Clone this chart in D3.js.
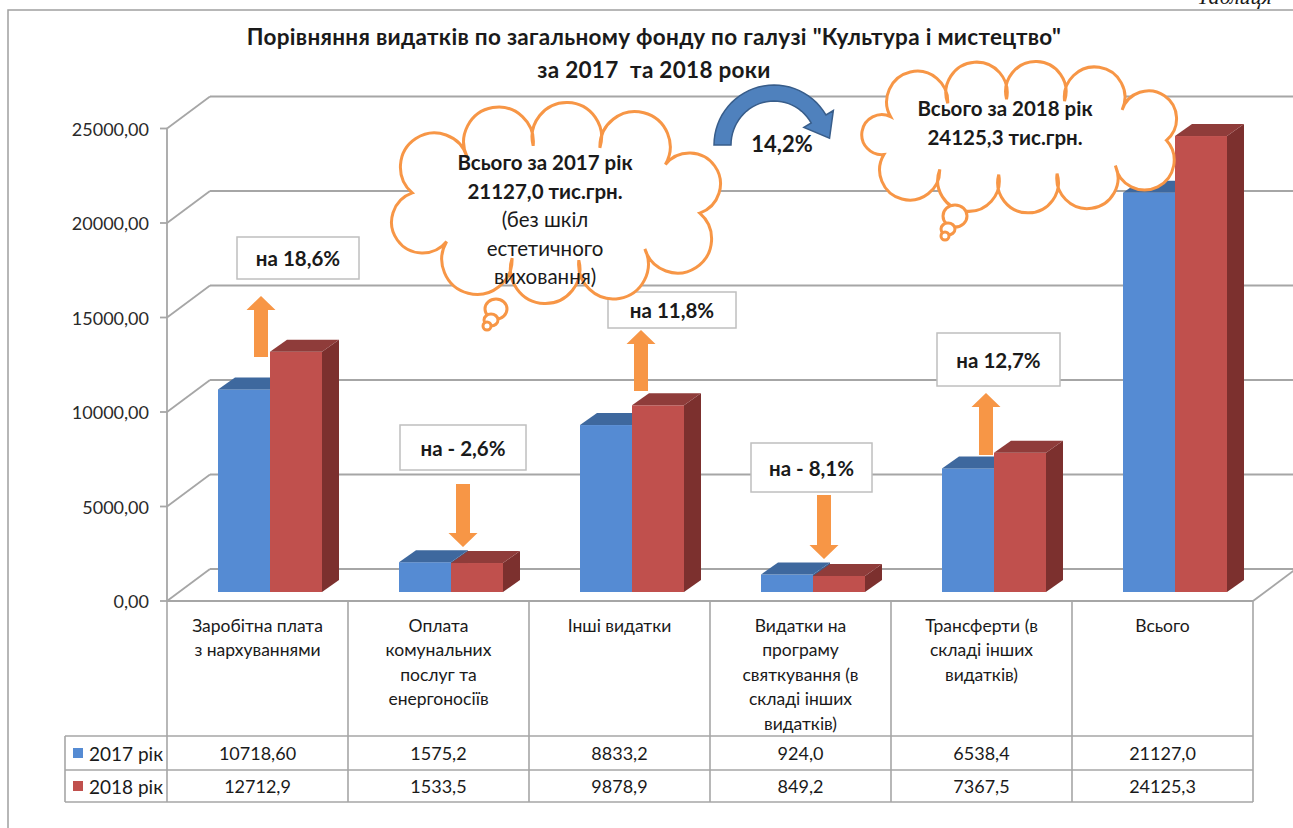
<!DOCTYPE html>
<html><head><meta charset="utf-8">
<script src="https://cdn.jsdelivr.net/npm/d3@7"></script>
<style>
body{margin:0;background:#fff}
svg{display:block}
text{font-family:Lato,'Open Sans',sans-serif;fill:#1a1a1a;white-space:pre}
</style>
</head><body>
<svg id="chart" width="1293" height="828"></svg>
<script>
// ---------------- data ----------------
const categories = [
  ["Заробітна плата", "з нархуваннями"],
  ["Оплата", "комунальних", "послуг та", "енергоносіїв"],
  ["Інші видатки"],
  ["Видатки на", "програму", "святкування (в", "складі інших", "видатків)"],
  ["Трансферти (в", "складі інших", "видатків)"],
  ["Всього"]
];
const seriesNames = ["2017 рік", "2018 рік"];
const values2017 = [10718.60, 1575.2, 8833.2, 924.0, 6538.4, 21127.0];
const values2018 = [12712.9, 1533.5, 9878.9, 849.2, 7367.5, 24125.3];
const tableLabels2017 = ["10718,60", "1575,2", "8833,2", "924,0", "6538,4", "21127,0"];
const tableLabels2018 = ["12712,9", "1533,5", "9878,9", "849,2", "7367,5", "24125,3"];
const yTicks = [0, 5000, 10000, 15000, 20000, 25000];
const changeLabels = ["на 18,6%", "на - 2,6%", "на 11,8%", "на - 8,1%", "на 12,7%"];
const changeDirections = ["up", "down", "up", "down", "up"];
const totalChangeLabel = "14,2%";
const cloud2017Lines = ["Всього за 2017 рік", "21127,0 тис.грн.", "(без шкіл", "естетичного", "виховання)"];
const cloud2018Lines = ["Всього за 2018 рік", "24125,3 тис.грн."];
const titleLines = ["Порівняння видатків по загальному фонду по галузі \"Культура і мистецтво\"", "за 2017  та 2018 роки"];

// ---------------- layout ----------------
const svg = d3.select("#chart");
const X0 = 167, X1 = 1253, Y0 = 601, YTOP = 128.5;
const DX = 43, DY = -32;          // wall depth
const BFX = 12, BFY = -9;         // bar front offset from front plane
const BDX = 17, BDY = -12;        // bar depth
const GRID = "#a6a6a6";
const ORANGE = "#f79646";
const colors = [
  {front: "#558bd3", top: "#3e689e", side: "#3a5f8f"},
  {front: "#c0504d", top: "#8f3c3a", side: "#7c302e"}
];

const x = d3.scaleBand().domain(d3.range(categories.length)).range([X0, X1]);
const xs = d3.scaleBand().domain([0, 1]).range([39, 143]);
const y = d3.scaleLinear().domain([0, 25000]).range([Y0, YTOP]);
const series = [values2017, values2018];

// frame
svg.append("rect").attr("x", 8).attr("y", 10).attr("width", 1300).attr("height", 830)
  .attr("fill", "none").attr("stroke", "#a0a0a0").attr("stroke-width", 1.5);
svg.append("text").attr("x", 1197).attr("y", 4).text("Таблиця")
  .style("font-family", "'Liberation Serif',serif").style("font-style", "italic").style("font-size", "22px");

// title
svg.selectAll("text.title").data(titleLines).join("text").attr("class", "title")
  .attr("x", 654).attr("y", (d, i) => 36 + i * 33).attr("text-anchor", "middle")
  .attr("dominant-baseline", "central").style("font-size", "22.5px").style("font-weight", "bold")
  .style("letter-spacing", "0.3px")
  .text(d => d);

// walls
const g = svg.append("g");
g.selectAll("line.back").data(yTicks).join("line").attr("class", "back")
  .attr("x1", X0 + DX).attr("x2", X1 + DX).attr("y1", d => y(d) + DY).attr("y2", d => y(d) + DY)
  .attr("stroke", GRID).attr("stroke-width", 1.8);
g.selectAll("line.side").data(yTicks).join("line").attr("class", "side")
  .attr("x1", X0).attr("x2", X0 + DX).attr("y1", d => y(d)).attr("y2", d => y(d) + DY)
  .attr("stroke", GRID).attr("stroke-width", 1.8);
g.append("line").attr("x1", X1).attr("y1", Y0).attr("x2", X1 + DX).attr("y2", Y0 + DY)
  .attr("stroke", GRID).attr("stroke-width", 1.8);
g.append("line").attr("x1", X0).attr("y1", y(25000)).attr("x2", X0).attr("y2", Y0)
  .attr("stroke", GRID).attr("stroke-width", 1.8);
g.selectAll("line.tick").data(yTicks).join("line").attr("class", "tick")
  .attr("x1", X0 - 7).attr("x2", X0).attr("y1", d => y(d)).attr("y2", d => y(d))
  .attr("stroke", GRID).attr("stroke-width", 1.8);
g.selectAll("text.ytick").data(yTicks).join("text").attr("class", "ytick")
  .attr("x", X0 - 18).attr("y", d => y(d)).attr("text-anchor", "end").attr("dominant-baseline", "central")
  .style("font-size", "18px").style("fill", "#2a2a2a")
  .text(d => d3.format(".2f")(d).replace(".", ","));

// table
const T1 = 736, T2 = 770, T3 = 802, TL = 65;
const tg = svg.append("g");
const colEdges = d3.range(categories.length + 1).map(i => i < categories.length ? x(i) : X1);
tg.selectAll("line.col").data(colEdges).join("line").attr("class", "col")
  .attr("x1", d => d).attr("x2", d => d).attr("y1", Y0).attr("y2", T3)
  .attr("stroke", GRID).attr("stroke-width", 1.6);
tg.append("line").attr("x1", X0).attr("x2", X1).attr("y1", Y0).attr("y2", Y0).attr("stroke", GRID).attr("stroke-width", 1.8);
[T1, T2, T3].forEach(yy => tg.append("line").attr("x1", TL).attr("x2", X1).attr("y1", yy).attr("y2", yy)
  .attr("stroke", GRID).attr("stroke-width", 1.6));
tg.append("line").attr("x1", TL).attr("x2", TL).attr("y1", T1).attr("y2", T3).attr("stroke", GRID).attr("stroke-width", 1.6);

categories.forEach((lines, i) => {
  tg.selectAll(null).data(lines).join("text")
    .attr("x", x(i) + x.bandwidth() / 2).attr("y", (d, k) => 625 + k * 24.5)
    .attr("text-anchor", "middle").attr("dominant-baseline", "central")
    .style("font-size", "17.5px").text(d => d);
});
[tableLabels2017, tableLabels2018].forEach((row, s) => {
  tg.selectAll(null).data(row).join("text")
    .attr("x", (d, i) => x(i) + x.bandwidth() / 2).attr("y", s === 0 ? 753 : 786)
    .attr("text-anchor", "middle").attr("dominant-baseline", "central")
    .style("font-size", "18px").text(d => d);
});
seriesNames.forEach((name, s) => {
  const cy = s === 0 ? 753 : 786;
  tg.append("rect").attr("x", 73).attr("y", cy - 5).attr("width", 10).attr("height", 10).attr("fill", colors[s].front);
  tg.append("text").attr("x", 89).attr("y", cy).attr("dominant-baseline", "central")
    .style("font-size", "19px").text(name);
});

// bars
const bg = svg.append("g");
categories.forEach((c, i) => {
  series.forEach((vals, s) => {
    const v = vals[i];
    const left = x(i) + BFX + xs(s), w = xs.bandwidth();
    const yt = y(v) + BFY, yb = y(0) + BFY;
    const col = colors[s];
    bg.append("polygon").attr("points", [[left + w, yt], [left + w + BDX, yt + BDY], [left + w + BDX, yb + BDY], [left + w, yb]].join(" "))
      .attr("fill", col.side);
    bg.append("rect").attr("x", left).attr("y", yt).attr("width", w).attr("height", yb - yt).attr("fill", col.front);
    bg.append("polygon").attr("points", [[left, yt], [left + w, yt], [left + w + BDX, yt + BDY], [left + BDX, yt + BDY]].join(" "))
      .attr("fill", col.top);
  });
});

// annotations (change labels with arrows)
const annLayout = [
  {box: [70, 237, 122, 42], ax: 94, a0: 296, a1: 357},
  {box: [52, 425, 126, 45], ax: 115, a0: 484, a1: 547},
  {box: [79, 292, 128, 36], ax: 112, a0: 330, a1: 391},
  {box: [41, 443, 121, 49], ax: 114, a0: 495, a1: 559},
  {box: [46, 333, 123, 53], ax: 95, a0: 393, a1: 455}
];
const ag = svg.append("g");
changeLabels.forEach((lab, i) => {
  const L = annLayout[i], bx = x(i) + L.box[0];
  ag.append("rect").attr("x", bx).attr("y", L.box[1]).attr("width", L.box[2]).attr("height", L.box[3])
    .attr("fill", "#fff").attr("stroke", "#bfbfbf").attr("stroke-width", 1.5);
  ag.append("text").attr("x", bx + L.box[2] / 2).attr("y", L.box[1] + L.box[3] / 2)
    .attr("text-anchor", "middle").attr("dominant-baseline", "central")
    .style("font-size", "20.5px").style("font-weight", "bold").text(lab);
  const cx = x(i) + L.ax, sw = 7, hw = 14.5, hl = 14;
  let pts;
  if (changeDirections[i] === "up") {
    pts = [[cx, L.a0], [cx + hw, L.a0 + hl], [cx + sw, L.a0 + hl], [cx + sw, L.a1], [cx - sw, L.a1], [cx - sw, L.a0 + hl], [cx - hw, L.a0 + hl]];
  } else {
    pts = [[cx, L.a1], [cx + hw, L.a1 - hl], [cx + sw, L.a1 - hl], [cx + sw, L.a0], [cx - sw, L.a0], [cx - sw, L.a1 - hl], [cx - hw, L.a1 - hl]];
  }
  ag.append("polygon").attr("points", pts.join(" ")).attr("fill", ORANGE);
});

// clouds: bumps placed at equal arc length around a base ellipse
function cloudPath(cx, cy, rx, ry, n, start, k) {
  const N = 720, samp = [], cum = [0];
  for (let j = 0; j <= N; j++) {
    const t = (start + 360 * j / N) * Math.PI / 180;
    samp.push([cx + rx * Math.cos(t), cy + ry * Math.sin(t)]);
    if (j > 0) cum.push(cum[j - 1] + Math.hypot(samp[j][0] - samp[j - 1][0], samp[j][1] - samp[j - 1][1]));
  }
  const total = cum[N], pts = [];
  let j = 0;
  for (let b = 0; b < n; b++) {
    const target = total * b / n;
    while (cum[j] < target) j++;
    pts.push(samp[j]);
  }
  let d = `M${pts[0][0]},${pts[0][1]}`;
  for (let i = 0; i < pts.length; i++) {
    const p = pts[i], q = pts[(i + 1) % pts.length];
    const r = Math.hypot(q[0] - p[0], q[1] - p[1]) * k;
    d += `A${r},${r} 0 1 1 ${q[0]},${q[1]}`;
  }
  return d + "Z";
}
const cg = svg.append("g");
function drawCloud(shape, tails, lines, weights, tx, ty, lh) {
  cg.append("path").attr("d", cloudPath(...shape, 0.52))
    .attr("fill", "#fff").attr("stroke", ORANGE).attr("stroke-width", 3);
  tails.forEach(t => cg.append("ellipse").attr("cx", t[0]).attr("cy", t[1]).attr("rx", t[2]).attr("ry", t[3])
    .attr("fill", "#fff").attr("stroke", ORANGE).attr("stroke-width", 3));
  cg.selectAll(null).data(lines).join("text").attr("x", tx).attr("y", (d, k) => ty + k * lh)
    .attr("text-anchor", "middle").attr("dominant-baseline", "central")
    .style("font-size", "20.5px").style("font-weight", (d, k) => weights[k]).text(d => d);
}
drawCloud([556, 203, 146, 58, 10, 10],
  [[496, 309, 11, 10], [491, 320, 7, 6], [487, 326, 4, 4]],
  cloud2017Lines, ["bold", "bold", "normal", "normal", "normal"], 545, 162, 28.5);
drawCloud([1017, 137, 150, 38, 11, 5],
  [[955, 216, 12, 11], [948, 229, 7, 6], [945, 236, 4, 4]],
  cloud2018Lines, ["bold", "bold"], 1005, 108, 29);

// curved arrow between totals
(function () {
  const cx = 774, cy = 145, ro = [60, 60], ri = [43, 44], end = 30;
  const pt = (r, a) => [cx + r[0] * Math.cos(a * Math.PI / 180), cy - r[1] * Math.sin(a * Math.PI / 180)];
  const outer = d3.range(180, end - 0.1, -5).map(a => pt(ro, a));
  const inner = d3.range(end, 180.1, 5).map(a => pt(ri, a));
  const rm = [(ro[0] + ri[0]) / 2, (ro[1] + ri[1]) / 2];
  const mid = pt(rm, end);
  const t = Math.PI * end / 180;
  let tx = rm[0] * Math.sin(t), ty = rm[1] * Math.cos(t);
  const tl = Math.hypot(tx, ty); tx /= tl; ty /= tl;
  const nx = ty, ny = -tx;
  const wing = 17, len = 22;
  const pOut = [mid[0] + nx * wing, mid[1] + ny * wing], pIn = [mid[0] - nx * wing, mid[1] - ny * wing];
  const tip = [mid[0] + tx * len, mid[1] + ty * len];
  const pts = [...outer, pOut, tip, pIn, ...inner];
  svg.append("path").attr("d", "M" + pts.map(p => p.join(",")).join("L") + "Z")
    .attr("fill", "#4f81bd").attr("stroke", "#385d8a").attr("stroke-width", 1.5);
  svg.append("text").attr("x", 782).attr("y", 143).attr("text-anchor", "middle").attr("dominant-baseline", "central")
    .style("font-size", "22px").style("font-weight", "bold").text(totalChangeLabel);
})();
</script>
</body></html>
